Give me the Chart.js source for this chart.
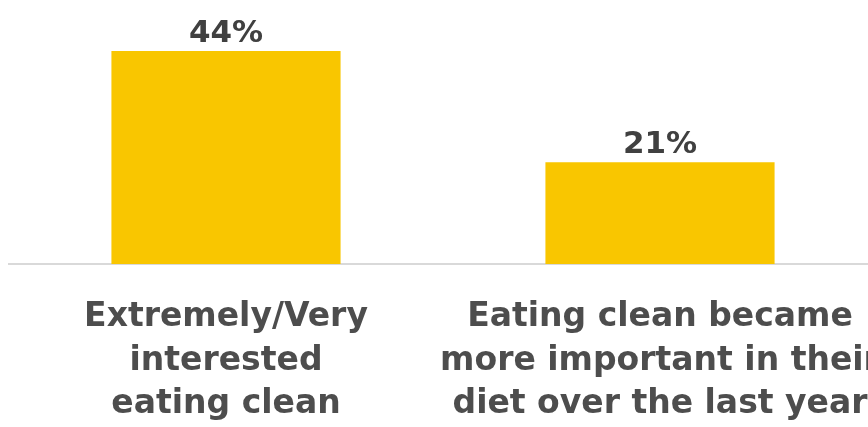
<!DOCTYPE html>
<html>
<head>
<meta charset="utf-8">
<script src="https://cdn.jsdelivr.net/npm/chart.js@4/dist/chart.umd.min.js"></script>
<style>
  html, body { margin: 0; padding: 0; background: #ffffff; overflow: hidden; }
  #wrap { width: 880px; height: 427px; }
</style>
</head>
<body>
<div id="wrap"><canvas id="c" width="880" height="427"></canvas></div>
<script>
const categories = [
  ["Extremely/Very", "interested", "eating clean"],
  ["Eating clean became", "more important in their", "diet over the last year"]
];
const values = [44, 21];
const valueLabels = ["44%", "21%"];

const labelPlugin = {
  id: 'valueLabels',
  afterDatasetsDraw(chart) {
    const ctx = chart.ctx;
    const meta = chart.getDatasetMeta(0);
    ctx.save();
    ctx.fillStyle = '#404040';
    ctx.font = 'bold 31px "DejaVu Sans"';
    ctx.textAlign = 'center';
    ctx.textBaseline = 'alphabetic';
    meta.data.forEach((bar, i) => {
      ctx.fillText(valueLabels[i], bar.x, bar.y - 9);
    });
    ctx.restore();
  }
};

new Chart(document.getElementById('c'), {
  type: 'bar',
  data: {
    labels: categories,
    datasets: [{
      data: values,
      backgroundColor: '#F9C600',
      borderWidth: 0,
      categoryPercentage: 1,
      barPercentage: 0.528
    }]
  },
  options: {
    responsive: false,
    animation: false,
    layout: { padding: { left: 9, right: 3, top: 22, bottom: 0 } },
    plugins: { legend: { display: false }, tooltip: { enabled: false } },
    scales: {
      y: {
        display: false,
        min: 0,
        max: 50
      },
      x: {
        grid: { display: false, drawTicks: false },
        border: { display: true, color: '#D9D9D9', width: 2 },
        ticks: {
          color: '#4D4D4D',
          font: { family: 'DejaVu Sans', weight: 'bold', size: 33, lineHeight: 1.32 },
          padding: 32,
          maxRotation: 0,
          autoSkip: false
        },
        afterFit(scale) {
          scale.height = 163;
          scale.paddingLeft = 0;
          scale.paddingRight = 0;
        }
      }
    }
  },
  plugins: [labelPlugin]
});
</script>
</body>
</html>
